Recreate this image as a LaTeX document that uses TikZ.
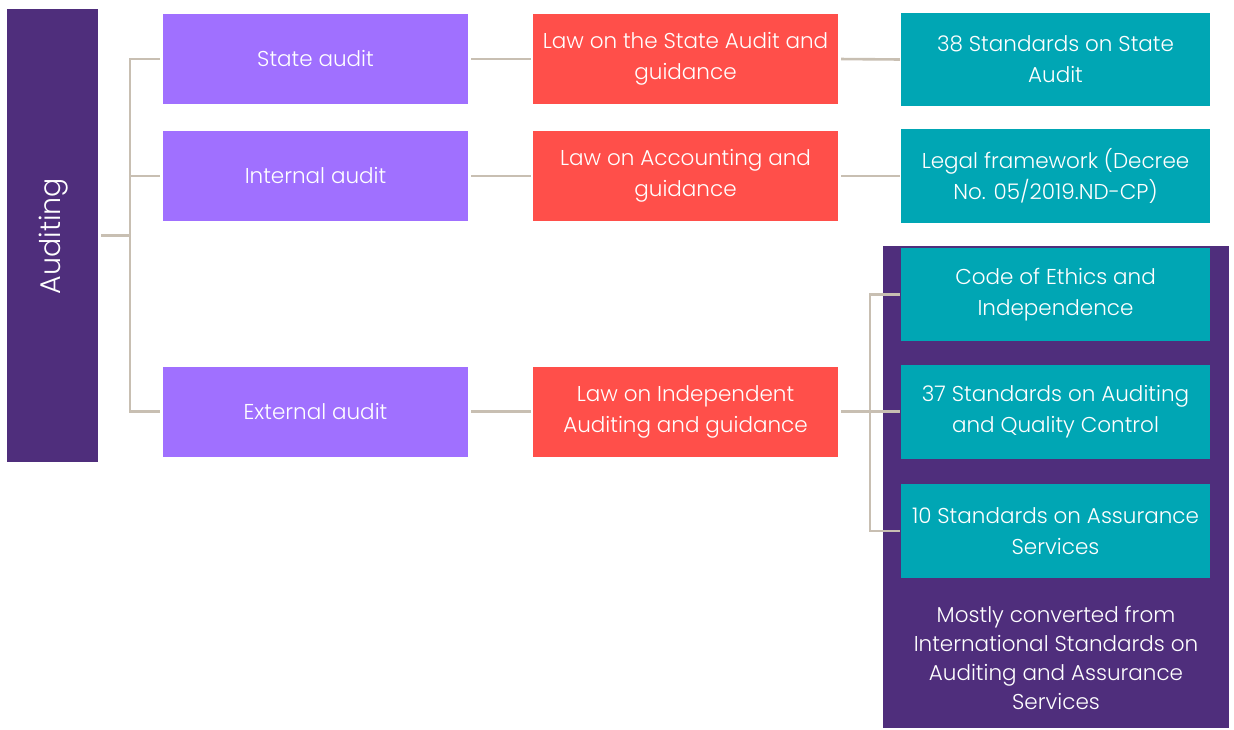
\documentclass[tikz,border=0pt]{standalone}
\usepackage{fontspec}
\setmainfont{Poppins Light}
\definecolor{dpurple}{HTML}{4F2E7C}
\definecolor{lpurple}{HTML}{A070FF}
\definecolor{lred}{HTML}{FF4F4A}
\definecolor{teal1}{HTML}{00A6B4}
\definecolor{conncol}{HTML}{C8BFB2}
\begin{document}
\begin{tikzpicture}[x=1pt,y=-1pt,
  box/.style={rectangle, inner sep=0pt, text=white, align=center,
    font=\fontsize{21.5}{31}\selectfont},
  pbox/.style={box, fill=lpurple, minimum width=305pt, minimum height=90pt},
  rbox/.style={box, fill=lred, minimum width=305pt, minimum height=90pt},
  tbox/.style={box, fill=teal1, minimum width=309pt, minimum height=93pt},
  conn/.style={draw=conncol, line width=2.6pt}]
\useasboundingbox (0,0) rectangle (1234,729);
% background panel
\node[box, fill=dpurple, minimum width=346pt, minimum height=482pt] (panel) at (1056,487) {};
\node[box, fill=dpurple, minimum width=91pt, minimum height=453pt] (aud) at (52.5,235.5) {};
\node[text=white, rotate=90, font=\fontsize{28.5}{32}\selectfont] (audt) at (53.5,236) {Auditing};
% column 1
\node[pbox] (s1) at (315.5,59) {State audit};
\node[pbox] (i1) at (315.5,176) {Internal audit};
\node[pbox] (e1) at (315.5,411.5) {External audit};
% column 2
\node[rbox] (s2) at (685.5,59) {Law on the State Audit and\\guidance};
\node[rbox] (i2) at (685.5,176) {Law on Accounting and\\guidance};
\node[rbox] (e2) at (685.5,411.5) {Law on Independent\\Auditing and guidance};
% column 3
\node[tbox] (s3) at (1055.5,59.5) {38 Standards on State\\Audit};
\node[tbox, minimum height=94pt] (i3) at (1055.5,176) {Legal framework (Decree\\No. 05/2019.ND-CP)};
\node[tbox] (t3) at (1055.5,294.5) {Code of Ethics and\\Independence};
\node[tbox, minimum height=94pt] (t4) at (1055.5,411.5) {37 Standards on Auditing\\and Quality Control};
\node[tbox, minimum height=94pt] (t5) at (1055.5,531) {10 Standards on Assurance\\Services};
\node[box, font=\fontsize{21.5}{29}\selectfont] (note) at (1056,657.5) {Mostly converted from\\International Standards on\\Auditing and Assurance\\Services};
% connectors
\coordinate (j1) at (130,235.5);
\coordinate (j2) at (870,411.5);
\draw[conn, shorten <=3pt] (aud.east) -- (j1);
\draw[conn, shorten >=3pt] (j1) |- (s1.west);
\draw[conn, shorten >=3pt] (j1) |- (i1.west);
\draw[conn, shorten >=3pt] (j1) |- (e1.west);
\draw[conn, shorten <=3pt, shorten >=2pt] (s1.east) -- (s2.west);
\draw[conn, shorten <=3pt, shorten >=2pt] (i1.east) -- (i2.west);
\draw[conn, shorten <=3pt, shorten >=2pt] (e1.east) -- (e2.west);
\draw[conn, shorten <=3pt, shorten >=1pt] (s2.east) -- (s3.west);
\draw[conn, shorten <=3pt, shorten >=1pt] (i2.east) -- (i3.west);
\draw[conn, shorten <=3pt] (e2.east) -- (j2);
\draw[conn, shorten >=1pt] (j2) |- (t3.west);
\draw[conn, shorten >=1pt] (j2) |- (t4.west);
\draw[conn, shorten >=1pt] (j2) |- (t5.west);
\end{tikzpicture}
\end{document}
